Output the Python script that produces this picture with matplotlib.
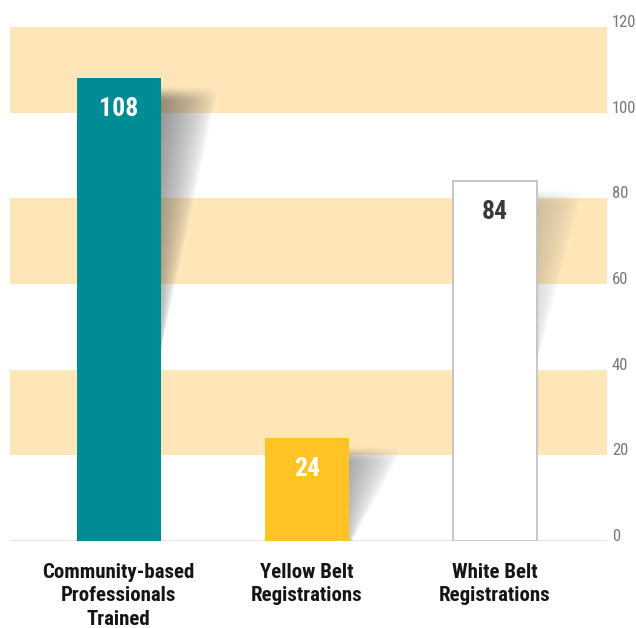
import numpy as np
import matplotlib
matplotlib.use("Agg")
import matplotlib.pyplot as plt
import matplotlib.transforms as mtransforms
from matplotlib import font_manager as fm

# ---- data ----
categories = ["Community-based\nProfessionals\nTrained", "Yellow Belt\nRegistrations", "White Belt\nRegistrations"]
values = [108, 24, 84]
value_labels = ["108", "24", "84"]
y_ticks = [0, 20, 40, 60, 80, 100, 120]
band_ranges = [(20, 40), (60, 80), (100, 120)]

# ---- styles ----
bar_colors = ["#008C95", "#FFC325", "#FFFFFF"]
bar_edges = ["#008C95", "#FFC325", "#BDBDBD"]
bar_lw = [0, 0, 1.2]
label_colors = ["#FFFFFF", "#FFFFFF", "#3A3A3A"]
band_color = "#FEE6B9"
shadow_w = [56, 50, 44]
shadow_h = [255, 92, 165]
shadow_a = [0.58, 0.48, 0.26]

# pick a condensed font if one is installed
entries = fm.fontManager.ttflist
names = {f.name for f in entries}
preferred = ["Liberation Sans Narrow", "Roboto Condensed", "Open Sans Condensed",
             "Noto Sans Condensed", "Fira Sans Condensed", "Arial Narrow"]
family = None
for p in preferred:
    if p in names:
        family = p
        break
if family is None:
    cond = sorted({f.name for f in entries
                   if any(k in (f.name + " " + f.fname).lower() for k in ("condensed", "narrow"))})
    if cond:
        family = cond[0]
if family is None:
    family = "Roboto" if "Roboto" in names else "DejaVu Sans"
FONT = [family, "DejaVu Sans"]
STRETCH = "condensed"

W, H = 636, 628
fig = plt.figure(figsize=(W / 100, H / 100), dpi=100)
ax_l, ax_r, ax_t, ax_b = 10, 607, 27, 541
ax = fig.add_axes([ax_l / W, (H - ax_b) / H, (ax_r - ax_l) / W, (ax_b - ax_t) / H])

xmin, xmax = -0.5764, 2.595
ymin, ymax = 0, 120
Sx = (ax_r - ax_l) / (xmax - xmin)
Sy = (ax_b - ax_t) / (ymax - ymin)
bw = 84 / Sx

x = np.arange(len(categories))

for lo, hi in band_ranges:
    ax.axhspan(lo, hi, color=band_color, zorder=0, lw=0)

ax.axhline(0, color="#E4E4E4", lw=2.2, zorder=1)


def draw_shadow(xc, top_val, w_px, h_px, strength):
    right = xc + bw / 2
    pad_top = 12
    nx, ny = 160, 400
    dx = np.linspace(0, w_px + 6, nx)
    dy = np.linspace(-pad_top, h_px, ny)
    DX, DY = np.meshgrid(dx, dy)
    frac = np.clip(DY / h_px, 0, 1)
    dxmax = w_px * (1 - frac) + 0.001
    f = np.clip(1 - DX / dxmax, 0, 1) ** 0.7
    t = np.clip((DY + 10) / 18, 0, 1)
    topfade = t * t * (3 - 2 * t)
    alpha = strength * f * topfade * (1 - 0.4 * frac)
    rgba = np.zeros((ny, nx, 4))
    rgba[..., 0:3] = 0.28
    rgba[..., 3] = alpha
    top_off = 16
    y_top = top_val - (top_off - pad_top) / Sy
    y_bot = top_val - (top_off + h_px) / Sy
    ax.imshow(rgba, extent=[right, right + (w_px + 6) / Sx, y_bot, y_top],
              origin="upper", aspect="auto", interpolation="bilinear", zorder=1.5)


for i, v in enumerate(values):
    draw_shadow(x[i], v, shadow_w[i], shadow_h[i], shadow_a[i])

for i, v in enumerate(values):
    ax.bar(x[i], v, width=bw, color=bar_colors[i], edgecolor=bar_edges[i],
           linewidth=bar_lw[i], zorder=3)
    ax.annotate(value_labels[i], (x[i], v), xytext=(0, -22), textcoords="offset points",
                ha="center", va="center", fontsize=18.5, fontweight="bold",
                family=FONT, fontstretch=STRETCH, color=label_colors[i], zorder=4)

ax.set_xlim(xmin, xmax)
ax.set_ylim(ymin, ymax)

ax.set_xticks(x)
ax.set_xticklabels(categories, fontsize=15, fontweight="bold", family=FONT,
                   fontstretch=STRETCH, color="#151515", linespacing=1.28)
ax.tick_params(axis="x", length=0, pad=16)

ax.yaxis.tick_right()
ax.set_yticks(y_ticks)
ax.set_yticklabels([str(t) for t in y_ticks], family=FONT, fontstretch=STRETCH,
                   fontsize=12, color="#787878")
ax.tick_params(axis="y", length=0, pad=3.5)
offset = mtransforms.ScaledTranslation(0, 6 / 100, fig.dpi_scale_trans)
for lab in ax.get_yticklabels():
    lab.set_transform(lab.get_transform() + offset)

for s in ax.spines.values():
    s.set_visible(False)

fig.savefig("out.png", dpi=100)
